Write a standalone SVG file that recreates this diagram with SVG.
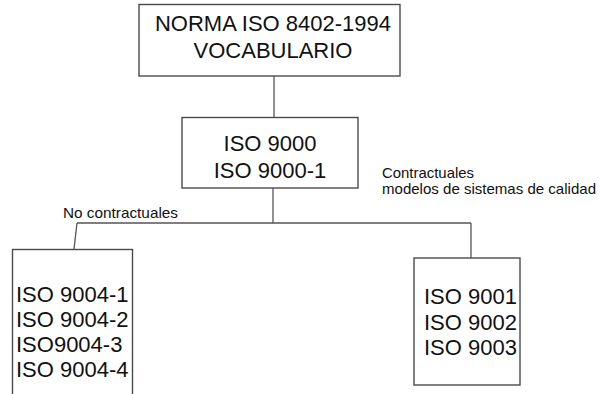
<svg xmlns="http://www.w3.org/2000/svg" width="601" height="394" viewBox="0 0 601 394">
<style>
.box{fill:#fff;stroke:#4a4a4a;stroke-width:1.4}
.ln{fill:none;stroke:#555;stroke-width:1.3}
.t{font-family:"Liberation Sans",Arial,sans-serif;font-size:22px;fill:#111}
.s{font-family:"Liberation Sans",Arial,sans-serif;font-size:14.6px;fill:#111}
</style>
<rect width="601" height="394" fill="#fff"/>
<g id="connectors">
<line class="ln" x1="274" y1="76" x2="274" y2="117"/>
<line class="ln" x1="273" y1="188" x2="273" y2="223"/>
<line class="ln" x1="77" y1="223" x2="471" y2="223"/>
<line class="ln" x1="471" y1="223" x2="471" y2="258"/>
<line class="ln" x1="77" y1="223" x2="74" y2="249"/>
</g>
<g id="norma">
<rect class="box" x="139" y="4.5" width="261" height="71.5"/>
<text class="t" x="273" y="30.5" text-anchor="middle">NORMA ISO 8402-1994</text>
<text class="t" x="273" y="58" text-anchor="middle">VOCABULARIO</text>
</g>
<g id="iso9000">
<rect class="box" x="182" y="117.5" width="176" height="70.5"/>
<text class="t" x="270" y="151" text-anchor="middle">ISO 9000</text>
<text class="t" x="270" y="178" text-anchor="middle">ISO 9000-1</text>
</g>
<g id="label-contractuales">
<text class="s" x="382" y="177.5" textLength="92" lengthAdjust="spacingAndGlyphs">Contractuales</text>
<text class="s" x="382" y="194" textLength="214" lengthAdjust="spacingAndGlyphs">modelos de sistemas de calidad</text>
</g>
<g id="label-nocontractuales">
<text class="s" x="63" y="217.5" textLength="115" lengthAdjust="spacingAndGlyphs">No contractuales</text>
</g>
<g id="iso9004">
<rect class="box" x="12.5" y="249.5" width="120" height="160"/>
<text class="t" x="16" y="302">ISO 9004-1</text>
<text class="t" x="16" y="327">ISO 9004-2</text>
<text class="t" x="16" y="352">ISO9004-3</text>
<text class="t" x="16" y="377">ISO 9004-4</text>
</g>
<g id="iso9001">
<rect class="box" x="414" y="258" width="106" height="127"/>
<text class="t" x="424" y="304">ISO 9001</text>
<text class="t" x="424" y="329.5">ISO 9002</text>
<text class="t" x="424" y="355">ISO 9003</text>
</g>
</svg>
